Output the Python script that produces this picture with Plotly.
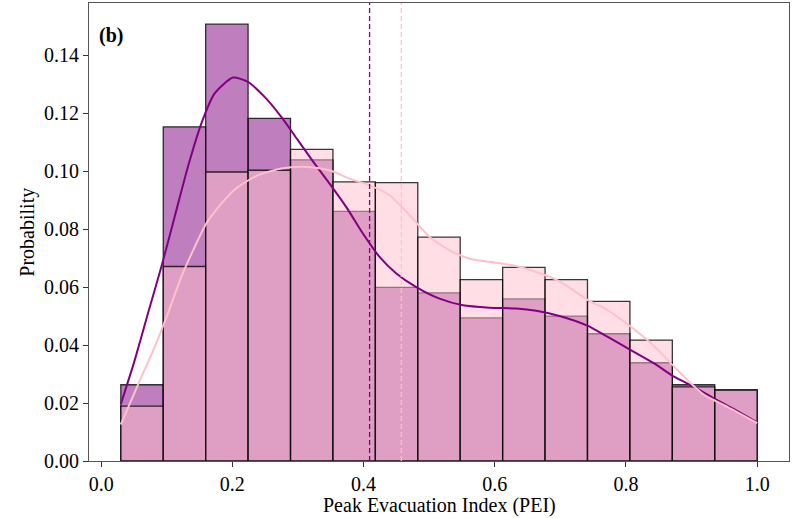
import numpy as np
import plotly.graph_objects as go

# ---- data ----
bin_start, bin_end, n_bins = 0.03, 1.0, 15
purple_prob = [0.0263, 0.1153, 0.1507, 0.1182, 0.1039, 0.0861, 0.0599, 0.0580,
               0.0494, 0.0559, 0.0500, 0.0439, 0.0339, 0.0263, 0.0245]
pink_prob = [0.0189, 0.0671, 0.0997, 0.1003, 0.1075, 0.0963, 0.0960, 0.0772,
             0.0626, 0.0668, 0.0626, 0.0551, 0.0417, 0.0256, 0.0245]

purple_kde_x = [0.03, 0.0511, 0.0713, 0.0917, 0.112, 0.1323, 0.1527, 0.173, 0.2009,
                0.2237, 0.2492, 0.2746, 0.2999, 0.3254, 0.3482, 0.3737, 0.399, 0.4244,
                0.4499, 0.4803, 0.5159, 0.5514, 0.592, 0.6327, 0.6632, 0.6987, 0.7419,
                0.7723, 0.808, 0.8435, 0.8739, 0.9044, 0.9349, 0.9654, 1.0]
purple_kde_y = [0.0196, 0.0347, 0.0509, 0.0669, 0.0842, 0.1015, 0.1164, 0.1268, 0.1323,
                0.1308, 0.1256, 0.1187, 0.1107, 0.1026, 0.0957, 0.0876, 0.0785, 0.0704,
                0.0647, 0.0600, 0.0560, 0.0537, 0.0529, 0.0526, 0.0518, 0.0500, 0.0466,
                0.0428, 0.0382, 0.0336, 0.0290, 0.0255, 0.0215, 0.0178, 0.0133]

pink_kde_x = [0.03, 0.0613, 0.0815, 0.1018, 0.1222, 0.1425, 0.1603, 0.1832, 0.2085,
              0.239, 0.2746, 0.3051, 0.3356, 0.3558, 0.3787, 0.4092, 0.4397, 0.4702,
              0.5006, 0.5311, 0.5616, 0.592, 0.6276, 0.6632, 0.6987, 0.7419, 0.7723,
              0.808, 0.8385, 0.8689, 0.8943, 0.9197, 0.9552, 1.0]
pink_kde_y = [0.0126, 0.0290, 0.0393, 0.0509, 0.0635, 0.0738, 0.0819, 0.0888, 0.0945,
              0.0986, 0.1009, 0.1015, 0.1009, 0.0997, 0.0974, 0.0951, 0.0917, 0.0848,
              0.0773, 0.0727, 0.0698, 0.0687, 0.0675, 0.0652, 0.0620, 0.0555, 0.0520,
              0.0462, 0.0405, 0.0336, 0.0278, 0.0227, 0.0186, 0.0131]

purple_median = 0.4092
pink_median = 0.4575

x_ticks = [0.0, 0.2, 0.4, 0.6, 0.8, 1.0]
y_ticks = [0.00, 0.02, 0.04, 0.06, 0.08, 0.10, 0.12, 0.14]

x_title = "Peak Evacuation Index (PEI)"
y_title = "Probability"
panel_label = "<b>(b)</b>"

# ---- figure ----
edges = np.linspace(bin_start, bin_end, n_bins + 1)
centers = (edges[:-1] + edges[1:]) / 2
widths = np.diff(edges)

FONT = "Liberation Serif"
edge_line = dict(color="rgba(0,0,0,0.78)", width=1.3)

fig = go.Figure()
fig.add_trace(go.Bar(x=centers, y=purple_prob, width=widths,
                     marker=dict(color="rgba(128,0,128,0.5)", line=edge_line),
                     showlegend=False))
fig.add_trace(go.Bar(x=centers, y=pink_prob, width=widths,
                     marker=dict(color="rgba(255,192,203,0.5)", line=edge_line),
                     showlegend=False))
fig.add_trace(go.Scatter(x=purple_kde_x, y=purple_kde_y, mode="lines",
                         line=dict(color="#800080", width=2, shape="spline", smoothing=0.6),
                         showlegend=False))
fig.add_trace(go.Scatter(x=pink_kde_x, y=pink_kde_y, mode="lines",
                         line=dict(color="#FFC0CB", width=2, shape="spline", smoothing=0.6),
                         showlegend=False))

fig.add_shape(type="line", x0=purple_median, x1=purple_median, y0=0, y1=1,
              xref="x", yref="paper", line=dict(color="#800080", width=1.3, dash="5px,3px"),
              layer="above")
fig.add_shape(type="line", x0=pink_median, x1=pink_median, y0=0, y1=1,
              xref="x", yref="paper", line=dict(color="#FFC0CB", width=1.2, dash="5px,3px"),
              layer="above")

fig.add_annotation(text=panel_label, xref="paper", yref="paper", x=0.012, y=0.928,
                   xanchor="left", yanchor="middle", showarrow=False,
                   font=dict(family=FONT, size=20, color="black"))
fig.add_annotation(text=x_title, xref="paper", yref="paper", x=0.5, y=-0.097,
                   xanchor="center", yanchor="middle", showarrow=False,
                   font=dict(family=FONT, size=20, color="black"))
fig.add_annotation(text=y_title, xref="paper", yref="paper", x=-0.089, y=0.5,
                   xanchor="center", yanchor="middle", showarrow=False, textangle=-90,
                   font=dict(family=FONT, size=20, color="black"))

axis_common = dict(showgrid=False, zeroline=False, showline=True, linecolor="#555",
                   linewidth=1, mirror=True, ticks="outside", ticklen=5, tickwidth=1,
                   tickcolor="#333", tickfont=dict(family=FONT, size=20, color="black"))

fig.update_xaxes(range=[-0.0185, 1.0485], tickvals=x_ticks, tickformat=".1f",
                 **axis_common)
fig.update_yaxes(range=[0, 0.1580], tickvals=y_ticks, tickformat=".2f",
                 **axis_common)

fig.update_layout(width=792, height=518, barmode="overlay",
                  margin=dict(l=89, r=3, t=3, b=57, autoexpand=False),
                  plot_bgcolor="white", paper_bgcolor="white",
                  font=dict(family=FONT))

fig.write_html("out.html", config={"displayModeBar": False})

# remove the default page margin so the figure sits at the window's top-left corner
with open("out.html", "r", encoding="utf-8") as f:
    html = f.read()
html = html.replace("<body>", '<body style="margin:0;padding:0;">', 1)
with open("out.html", "w", encoding="utf-8") as f:
    f.write(html)
